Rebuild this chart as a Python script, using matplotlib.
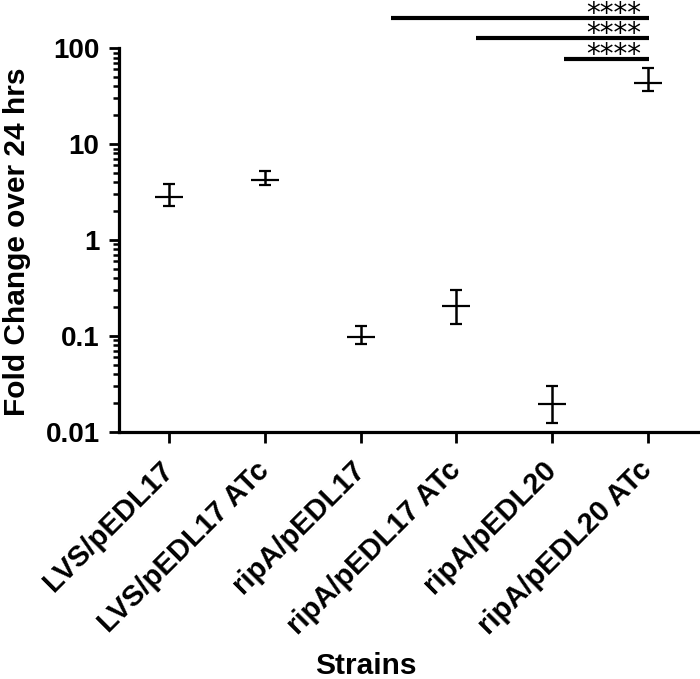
#!/usr/bin/env python3
"""Fold change over 24 hrs per strain (log scale), mean with error bars."""

import numpy as np
import matplotlib
matplotlib.use("Agg")
import matplotlib.pyplot as plt
from matplotlib.ticker import LogLocator, FixedLocator, NullFormatter, FuncFormatter

plt.rcParams["font.family"] = ["Liberation Sans", "DejaVu Sans"]
plt.rcParams["font.weight"] = "bold"

# values
strains = ["LVS/pEDL17", "LVS/pEDL17 ATc", "ripA/pEDL17",
           "ripA/pEDL17 ATc", "ripA/pEDL20", "ripA/pEDL20 ATc"]
fold_mean = [2.8, 4.2, 0.097, 0.204, 0.0196, 42.9]
fold_upper = [3.83, 5.27, 0.128, 0.299, 0.0301, 62.4]
fold_lower = [2.26, 3.74, 0.082, 0.132, 0.0125, 35.4]

# significance brackets (start position, end position, height)
sig_start = [2.32, 3.21, 4.12]
sig_end = [5.01, 5.01, 5.01]
sig_y = [207, 128, 78]
sig_label = ["****", "****", "****"]

x = np.arange(len(strains))
mean = np.array(fold_mean)
err = [mean - np.array(fold_lower), np.array(fold_upper) - mean]

fig = plt.figure(figsize=(7.0, 6.79), dpi=100)
ax = fig.add_axes([0.170, 0.364, 0.827, 0.565])

ax.errorbar(x, mean, yerr=err, fmt="_", color="black", ms=20, mew=1.6,
            elinewidth=1.8, capsize=4.5, capthick=2.6)

ax.set_yscale("log")
ax.set_ylim(0.01, 100)
ax.set_xlim(-0.52, 5.52)

ax.yaxis.set_major_locator(FixedLocator([0.01, 0.1, 1, 10, 100]))
ax.yaxis.set_major_formatter(FuncFormatter(lambda v, p: f"{v:g}"))
ax.yaxis.set_minor_locator(LogLocator(base=10, subs=np.arange(2, 10)))
ax.yaxis.set_minor_formatter(NullFormatter())

ax.set_xticks(x)
ax.set_xticklabels(strains, rotation=45, ha="right", va="center",
                   rotation_mode="anchor", fontsize=21, fontweight="bold")
ax.tick_params(axis="x", length=8, width=2.0, pad=16.5, direction="out")
ax.tick_params(axis="y", which="major", length=7, width=2.0, labelsize=20, pad=7)
ax.tick_params(axis="y", which="minor", length=4.5, width=1.8)

for side in ["top", "right"]:
    ax.spines[side].set_visible(False)
for side in ["left", "bottom"]:
    ax.spines[side].set_linewidth(2.3)

ax.set_ylabel("Fold Change over 24 hrs", fontsize=21.5, fontweight="bold")
ax.yaxis.set_label_coords(-0.152, 0.495)
ax.set_xlabel("Strains", fontsize=21.5, fontweight="bold")
ax.xaxis.set_label_coords(0.427, -0.573)

for x0, x1, yb, lab in zip(sig_start, sig_end, sig_y, sig_label):
    ax.plot([x0, x1], [yb, yb], color="black", lw=3.0, clip_on=False,
            solid_capstyle="butt")
    ax.annotate(lab, xy=(4.645, yb), xytext=(0, -3), textcoords="offset points",
                ha="center", va="baseline", fontsize=20, fontweight="normal",
                family="DejaVu Sans", annotation_clip=False)

fig.savefig("out.png", dpi=100)
